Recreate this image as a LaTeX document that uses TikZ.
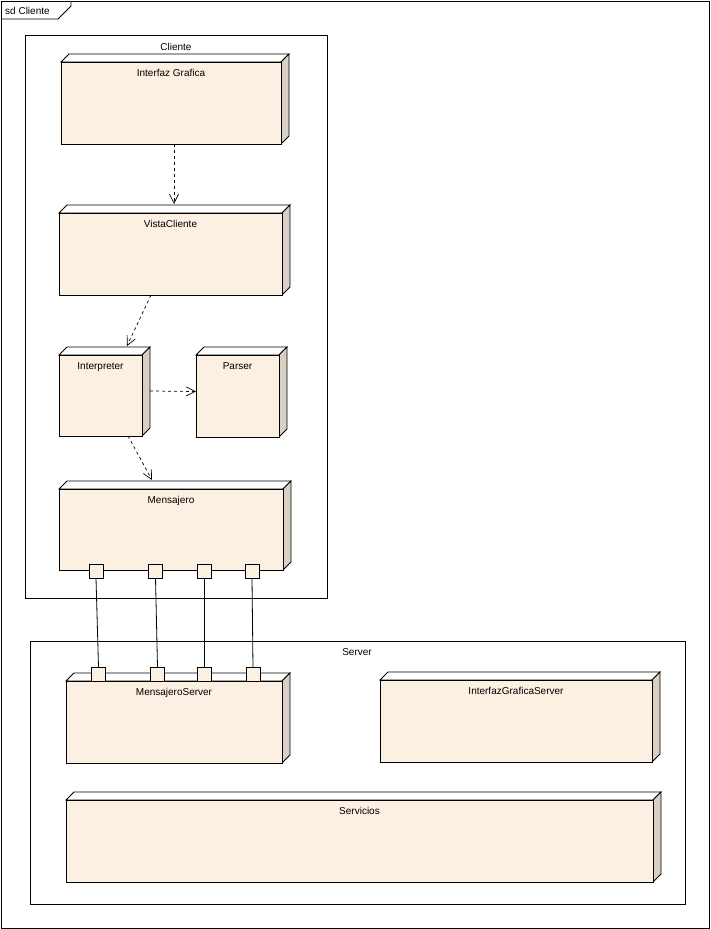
\documentclass[tikz,border=0pt]{standalone}
\usepackage{fontspec}
\setmainfont{Liberation Sans}
\usetikzlibrary{arrows.meta,calc}
\definecolor{facec}{RGB}{251,240,226}
\definecolor{sidec}{RGB}{216,208,196}
\tikzset{
  ln/.style={line width=0.8pt,draw=black},
  face/.style={ln,fill=facec,rectangle,inner sep=0pt,outer sep=0pt,anchor=north west},
  lbl/.style={font=\fontsize{10}{12}\selectfont,inner sep=0pt,anchor=base},
  port/.style={ln,fill=facec,rectangle,inner sep=0pt,outer sep=0pt,minimum width=14pt,minimum height=14pt},
  dep/.style={line width=0.7pt,dash pattern=on 3pt off 3pt,-{Straight Barb[length=9pt,width=9pt,line width=0.7pt]}},
  frame/.style={ln,fill=white,rectangle,inner sep=0pt,outer sep=0pt,anchor=north west}
}
\newcommand\nodebox[6]{%
  \filldraw[ln,fill=white] (#2,#3) -- (#2+8,#3-8) -- (#4+8,#3-8) -- (#4,#3) -- cycle;
  \filldraw[ln,fill=sidec] (#4,#3) -- (#4+8,#3-8) -- (#4+8,#5-8) -- (#4,#5) -- cycle;
  \node[face,minimum width={(#4-#2)*1pt},minimum height={(#5-#3)*1pt}] (#1) at (#2,#3) {};
  \node[lbl] (#1lbl) at ({(#2+#4)/2},#3+14) {#6};
}
\begin{document}
\begin{tikzpicture}[x=1pt,y=-1pt]
\useasboundingbox (0,0) rectangle (710,929);
% outer frame
\node[frame,minimum width=708pt,minimum height=927pt] (sd) at (1,1) {};
\draw[ln] (1,19) -- (58,19) -- (71,6) -- (71,1);
\node[lbl,anchor=base west] (sdlbl) at (5,14) {sd Cliente};
% Cliente frame
\node[frame,minimum width=302pt,minimum height=563pt] (cl) at (25,35) {};
\node[lbl] (cllbl) at (176,50) {Cliente};
% Server frame
\node[frame,minimum width=655pt,minimum height=263pt] (sv) at (30,641) {};
\node[lbl] (svlbl) at (357,655) {Server};
% nodes
\nodebox{ig}{61}{62}{281}{144}{Interfaz Grafica}
\nodebox{vc}{59}{213}{282}{295}{VistaCliente}
\nodebox{ip}{59}{355}{142}{436}{Interpreter}
\nodebox{pa}{196}{355}{279}{437}{Parser}
\nodebox{ms}{59}{489}{283}{570}{Mensajero}
\nodebox{mss}{66}{681}{282}{763}{MensajeroServer}
\nodebox{igs}{380}{680}{652}{762}{InterfazGraficaServer}
\nodebox{se}{66}{800}{653}{882}{Servicios}
% ports
\node[port] (p1) at (96,571) {};
\node[port] (p2) at (155.5,571) {};
\node[port] (p3) at (204,571) {};
\node[port] (p4) at (252,571) {};
\node[port] (q1) at (98.5,674) {};
\node[port] (q2) at (157.5,674) {};
\node[port] (q3) at (204,674) {};
\node[port] (q4) at (253,674) {};
\draw[ln] (p1.south) -- (q1.north);
\draw[ln] (p2.south) -- (q2.north);
\draw[ln] (p3.south) -- (q3.north);
\draw[ln] (p4.south) -- (q4.north);
% dependencies
\coordinate (vct) at ($(vc.north west)+(115,-9)$);
\draw[dep] (ig.south -| vct) -- (vct);
\draw[dep] ($(vc.south west)+(92,0)$) -- ($(ip.north west)+(68,-9)$);
\draw[dep] ($(ip.east)+(8,-4.5)$) -- ($(pa.west)+(0,-4.5)$);
\draw[dep] ($(ip.south west)+(69,0)$) -- ($(ms.north west)+(93,-9)$);
\end{tikzpicture}
\end{document}
